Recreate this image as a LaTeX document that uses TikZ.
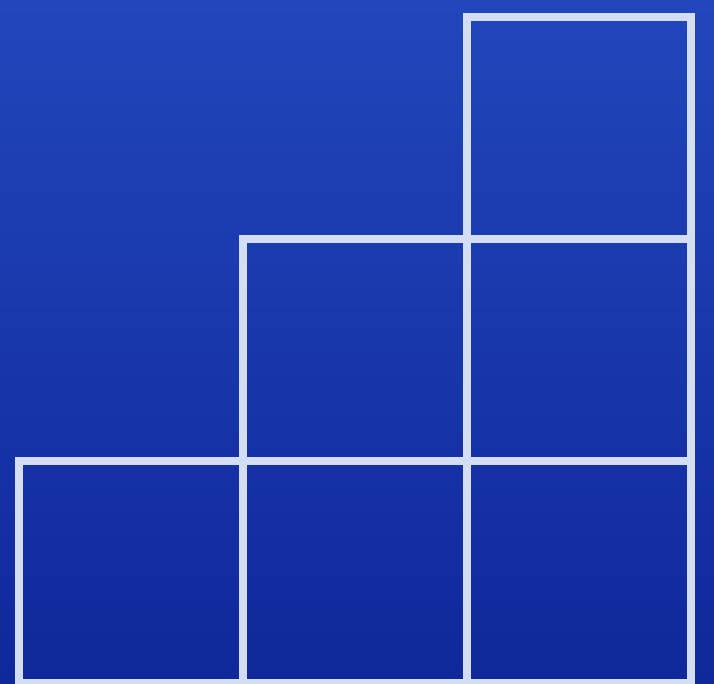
\documentclass[tikz,border=0pt]{standalone}
\usepackage{tikz}
\definecolor{BoardTop}{HTML}{2246BC}
\definecolor{BoardBottom}{HTML}{0F289A}
\definecolor{CellLine}{HTML}{D4DDF6}

\begin{document}
\begin{tikzpicture}[
  x=1pt, y=-1pt,
  cell/.style={draw=CellLine, line width=8pt, line join=miter},
]
\shade[top color=BoardTop, bottom color=BoardBottom] (0,0) rectangle (714,684);
\useasboundingbox (0,0) rectangle (714,684);
% staircase: column/row of each square
\foreach \c/\r in {0/2, 1/2, 2/2, 1/1, 2/1, 2/0}{
  \draw[cell] ({19+224*\c},{17+222*\r}) rectangle ++(224,222);
}
\end{tikzpicture}
\end{document}
